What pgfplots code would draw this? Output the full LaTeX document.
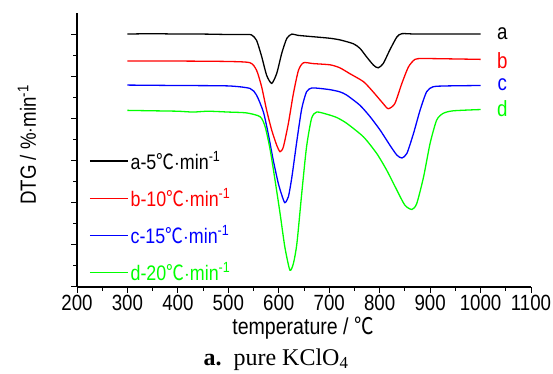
\documentclass[border=0pt]{standalone}
\usepackage{fontspec}
\setmainfont{Liberation Sans}[FakeStretch=0.85]
\newfontfamily\cjk{Noto Sans CJK SC}[FakeStretch=0.85]
\newfontfamily\capfont{Liberation Serif}
\usepackage{pgfplots}
\pgfplotsset{compat=1.18}
\newcommand\degC{{\cjk ℃}}
\begin{document}
\begin{tikzpicture}
\useasboundingbox (0,0) rectangle (553pt,374pt);
\begin{axis}[
  at={(77pt,87pt)}, anchor=south west,
  scale only axis, width=454pt, height=274pt,
  xmin=200, xmax=1100, ymin=0, ymax=6.5,
  axis x line*=bottom, axis y line*=left,
  axis line style={line width=1.2pt},
  xtick={200,300,...,1100}, minor x tick num=1,
  ytick={0,1,...,6}, yticklabels={}, minor y tick num=1,
  tick align=outside,
  major tick length=6pt, minor tick length=4pt,
  every tick/.style={black, line width=1pt},
  /pgf/number format/assume math mode=true,
  /pgf/number format/1000 sep={},
  tick label style={font=\fontsize{22}{24}\selectfont},
  xticklabel style={yshift=1pt},
  legend cell align=left,
  legend style={at={(0.02,0.51)}, anchor=north west, draw=none, fill=none,
    font=\fontsize{21}{23}\selectfont, row sep=14pt},
  legend image code/.code={\draw[#1] (0pt,0pt) -- (38pt,0pt);},
  every axis plot/.append style={line width=1.3pt, smooth, tension=0.4},
]
\addplot[black] coordinates {
(300,6.00)(350,6.01)(400,6.00)(450,6.00)(500,5.99)(530,5.99)(546,5.98)(556,5.85)(566,5.47)(576,5.02)(586,4.83)(596,5.07)(606,5.55)(616,5.90)(626,6.00)(638,5.97)(675,5.93)(702,5.90)(722,5.86)(748,5.77)(761,5.66)(774,5.46)(788,5.26)(797,5.20)(807,5.30)(820,5.62)(834,5.93)(844,6.01)(870,6.00)(900,6.00)(950,6.00)(1000,6.00)};
\addlegendentry{a-5\degC$\cdot$min\textsuperscript{-1}}
\addplot[red] coordinates {
(300,5.36)(400,5.36)(500,5.35)(543,5.32)(556,5.14)(566,4.75)(576,4.19)(586,3.72)(596,3.36)(602.5,3.21)(609,3.32)(619,3.88)(629,4.59)(639,5.14)(649,5.32)(668,5.30)(702,5.27)(721,5.20)(741,5.06)(768,4.87)(787,4.63)(807,4.35)(817,4.23)(830,4.35)(844,4.83)(857,5.22)(870,5.40)(887,5.42)(950,5.41)(1000,5.40)};
\addlegendentry{\textcolor{red}{b-10\degC$\cdot$min\textsuperscript{-1}}}
\addplot[blue] coordinates {
(300,4.79)(400,4.78)(500,4.77)(543,4.71)(556,4.55)(569.5,4.15)(579,3.64)(589,3.01)(599,2.46)(606,2.18)(612,2.00)(619,2.14)(626,2.61)(636,3.48)(645.5,4.23)(655,4.63)(665,4.72)(682,4.71)(702,4.68)(721,4.63)(735,4.55)(761,4.31)(781,4.04)(801,3.72)(820.5,3.36)(834,3.13)(844,3.06)(854,3.17)(867,3.64)(880,4.19)(893,4.63)(906,4.75)(933,4.77)(1000,4.78)};
\addlegendentry{\textcolor{blue}{c-15\degC$\cdot$min\textsuperscript{-1}}}
\addplot[green] coordinates {
(300,4.19)(350,4.18)(400,4.17)(430,4.15)(460,4.17)(500,4.15)(536,4.13)(563,4.04)(573,3.80)(583,3.25)(592.5,2.54)(602.5,1.75)(612,0.95)(622,0.40)(629,0.56)(636,1.04)(645.5,2.22)(655,3.32)(665,4.00)(675,4.15)(695,4.10)(715,4.02)(735,3.88)(768,3.56)(794,3.17)(814,2.77)(834,2.30)(850,1.94)(864,1.84)(873.5,1.98)(887,2.61)(900,3.41)(913,3.96)(926,4.12)(946,4.18)(1000,4.21)};
\addlegendentry{\textcolor{green}{d-20\degC$\cdot$min\textsuperscript{-1}}}
\node[font=\fontsize{22}{24}\selectfont, black] at (axis cs:1043,6.02) {a};
\node[font=\fontsize{22}{24}\selectfont, red] at (axis cs:1043,5.36) {b};
\node[font=\fontsize{22}{24}\selectfont, blue] at (axis cs:1043,4.79) {c};
\node[font=\fontsize{22}{24}\selectfont, green] at (axis cs:1043,4.22) {d};
\end{axis}
\node[rotate=90, font=\fontsize{22}{24}\selectfont] at (27pt,229pt) {DTG / \%$\cdot$min\textsuperscript{-1}};
\node[font=\fontsize{23}{25}\selectfont] at (303pt,46pt) {temperature / \degC};
\node[anchor=base, font=\capfont\fontsize{24}{26}\selectfont] at (276pt,9pt) {\textbf{a.}\ \ pure KClO\textsubscript{4}};
\end{tikzpicture}
\end{document}
